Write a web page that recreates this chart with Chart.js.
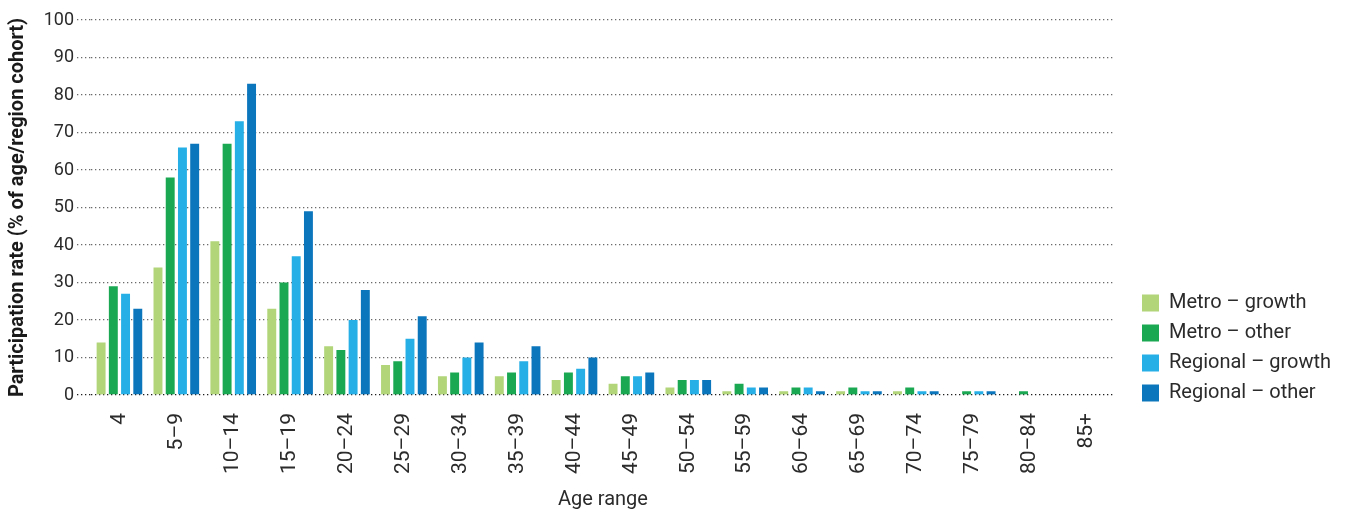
<!DOCTYPE html>
<html>
<head>
<meta charset="utf-8">
<script src="https://cdn.jsdelivr.net/npm/chart.js@4.4.1/dist/chart.umd.min.js"></script>
<style>
  html, body { margin: 0; padding: 0; background: #fff; }
  #wrap { width: 1355px; height: 515px; position: relative; }
</style>
</head>
<body>
<div id="wrap"><canvas id="chart"></canvas></div>
<script>
// Age ranges along the x axis
const ageRanges = ['4', '5–9', '10–14', '15–19', '20–24', '25–29', '30–34', '35–39', '40–44',
    '45–49', '50–54', '55–59', '60–64', '65–69', '70–74', '75–79', '80–84', '85+'];

// Participation rate (% of age/region cohort)
const metroGrowth    = [14, 34, 41, 23, 13, 8, 5, 5, 4, 3, 2, 1, 1, 1, 1, 0, 0, 0];
const metroOther     = [29, 58, 67, 30, 12, 9, 6, 6, 6, 5, 4, 3, 2, 2, 2, 1, 1, 0];
const regionalGrowth = [27, 66, 73, 37, 20, 15, 10, 9, 7, 5, 4, 2, 2, 1, 1, 1, 0, 0];
const regionalOther  = [23, 67, 83, 49, 28, 21, 14, 13, 10, 6, 4, 2, 1, 1, 1, 1, 0, 0];

const yTicks = [0, 10, 20, 30, 40, 50, 60, 70, 80, 90, 100];

const FONT = 'Roboto, "Noto Sans", sans-serif';
const TEXT = '#2b2b2b';
const DOTS = [1.3, 2.7];

// Put the legend where the original has it (bottom right, next to the plot)
const legendPlacer = {
    id: 'legendPlacer',
    afterLayout(chart) {
        const lg = chart.legend;
        if (!lg) return;
        const w = lg.width, h = lg.height;
        lg.left = 1132;
        lg.right = lg.left + w;
        lg.top = 283;
        lg.bottom = lg.top + h;
    }
};

function makeDataset(label, data, color) {
    return {
        label: label,
        data: data,
        backgroundColor: color,
        borderWidth: 0,
        categoryPercentage: 0.86,
        barPercentage: 0.73
    };
}

document.addEventListener('DOMContentLoaded', () => {
    const ctx = document.getElementById('chart');
    new Chart(ctx, {
        type: 'bar',
        data: {
            labels: ageRanges,
            datasets: [
                makeDataset('Metro – growth', metroGrowth, '#b1d578'),
                makeDataset('Metro – other', metroOther, '#1aa852'),
                makeDataset('Regional – growth', regionalGrowth, '#25afe6'),
                makeDataset('Regional – other', regionalOther, '#0c76bd')
            ]
        },
        options: {
            responsive: true,
            maintainAspectRatio: false,
            animation: false,
            layout: {
                padding: { left: 0, right: 31, top: 20, bottom: 2 }
            },
            plugins: {
                legend: {
                    position: 'right',
                    align: 'start',
                    labels: {
                        boxWidth: 17,
                        boxHeight: 17,
                        padding: 10,
                        color: TEXT,
                        font: { family: FONT, size: 20 }
                    }
                },
                tooltip: { enabled: false }
            },
            scales: {
                x: {
                    grid: { display: false, drawTicks: false },
                    border: { display: false },
                    ticks: {
                        autoSkip: false,
                        minRotation: 90,
                        maxRotation: 90,
                        padding: 18,
                        color: TEXT,
                        font: { family: FONT, size: 21 }
                    },
                    title: {
                        display: true,
                        text: 'Age range',
                        color: TEXT,
                        font: { family: FONT, size: 20 },
                        padding: { top: 4, bottom: 1 }
                    },
                    afterFit(scale) {
                        scale.height = 118;
                    }
                },
                y: {
                    min: 0,
                    max: 100,
                    afterBuildTicks(scale) {
                        scale.ticks = yTicks.map(v => ({ value: v }));
                    },
                    grid: {
                        color: ctx => ctx.tick && ctx.tick.value === 0 ? '#1e1e1e' : '#6a6a6a',
                        lineWidth: 1.3,
                        tickLength: 14,
                        drawTicks: true,
                        tickBorderDash: DOTS
                    },
                    border: { display: false, dash: DOTS },
                    ticks: {
                        padding: 3,
                        color: TEXT,
                        font: { family: FONT, size: 18 }
                    },
                    title: {
                        display: true,
                        text: 'Participation rate (% of age/region cohort)',
                        color: '#1a1a1a',
                        font: { family: FONT, size: 20, weight: 'bold' },
                        padding: { top: 6, bottom: 0 }
                    },
                    afterFit(scale) {
                        scale.width = 91;
                    }
                }
            }
        },
        plugins: [legendPlacer]
    });
});
</script>
</body>
</html>
